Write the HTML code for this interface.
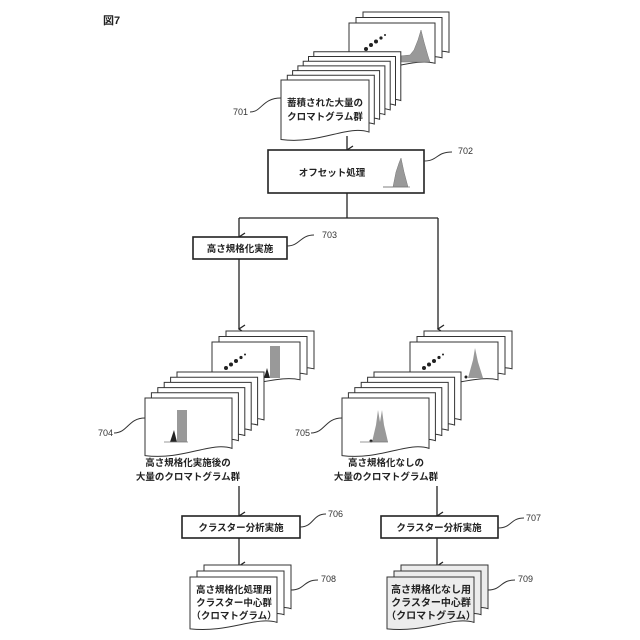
<!DOCTYPE html>
<html><head><meta charset="utf-8"><style>
html,body{margin:0;padding:0;background:#fff}
svg{display:block}
text{font-family:"Liberation Sans","Noto Sans CJK JP",sans-serif;fill:#222}
.j{font-size:9.5px;font-weight:bold;text-anchor:middle}
.n{font-size:9px;fill:#333}
</style></head><body>
<svg width="640" height="640" viewBox="0 0 640 640" xmlns="http://www.w3.org/2000/svg">
<defs>
<path id="cd" d="M0,0 H1 V0.84 C0.75,0.72 0.45,1.04 0,0.96 Z" fill="#fff" stroke="#333" stroke-width="1" vector-effect="non-scaling-stroke"/>
<path id="cg" d="M0,0 H1 V0.84 C0.75,0.72 0.45,1.04 0,0.96 Z" fill="#ececec" stroke="#333" stroke-width="1" vector-effect="non-scaling-stroke"/>
<marker id="ar" markerWidth="10" markerHeight="10" refX="5" refY="8" orient="auto" markerUnits="userSpaceOnUse"><path d="M1,2 L5,8 L9,2" fill="none" stroke="#222" stroke-width="1.3"/></marker>
</defs>

<text x="103" y="24" style="font-size:11px;font-weight:bold">図7</text>

<!-- 701 stack -->
<use href="#cd" transform="translate(363,12) scale(86,48)"/>
<use href="#cd" transform="translate(356,17.5) scale(86,48)"/>
<use href="#cd" transform="translate(349,23) scale(86,48)"/>
<g fill="#222"><circle cx="366" cy="49" r="2"/><circle cx="371" cy="45" r="2"/><circle cx="376" cy="41.5" r="2"/><circle cx="381" cy="38" r="1.6"/><circle cx="385" cy="35" r="1"/></g>
<path d="M400,62 L400,56 L410,55 L414,50 L418,40 L421,30 L424,42 L428,56 L430,62 Z" fill="#999" stroke="#777" stroke-width="0.5"/>
<use href="#cd" transform="translate(313.8,51.8) scale(87,58)"/>
<use href="#cd" transform="translate(308.5,56.5) scale(87,58)"/>
<use href="#cd" transform="translate(303.2,61.2) scale(87,58)"/>
<use href="#cd" transform="translate(297.9,65.9) scale(87,58)"/>
<use href="#cd" transform="translate(292.6,70.6) scale(87,58)"/>
<use href="#cd" transform="translate(287.3,75.3) scale(87,58)"/>
<use href="#cd" transform="translate(281,80) scale(88,62)"/>
<text class="j" x="325" y="106">蓄積された大量の</text>
<text class="j" x="325" y="120">クロマトグラム群</text>
<text class="n" x="233" y="115">701</text>
<path d="M250,112 C262,112 262,98 281,98" fill="none" stroke="#333"/>

<!-- arrow to 702 -->
<line x1="347" y1="136" x2="347" y2="150" stroke="#222" stroke-width="1.3" marker-end="url(#ar)"/>
<rect x="268" y="150" width="156" height="43" fill="#fff" stroke="#222" stroke-width="1.6"/>
<text class="j" x="332" y="176">オフセット処理</text>
<path d="M383,187 L393,187 L396,172 L399,163 L401,158 L404,172 L408,187 Z" fill="#999" stroke="#777" stroke-width="0.5"/>
<line x1="383" y1="187" x2="410" y2="187" stroke="#777" stroke-width="0.7"/>
<path d="M424,161 C438,161 436,152 452,152" fill="none" stroke="#333"/>
<text class="n" x="458" y="154">702</text>

<!-- branches -->
<g stroke="#222" stroke-width="1.3" fill="none">
<line x1="347" y1="193" x2="347" y2="218"/>
<line x1="239" y1="218" x2="438" y2="218"/>
<line x1="239" y1="218" x2="239" y2="237" marker-end="url(#ar)"/>
<line x1="438" y1="218" x2="438" y2="329" marker-end="url(#ar)"/>
<line x1="239" y1="259" x2="239" y2="329" marker-end="url(#ar)"/>
</g>
<rect x="193" y="237" width="94" height="22" fill="#fff" stroke="#222" stroke-width="1.6"/>
<text class="j" x="240" y="252">高さ規格化実施</text>
<path d="M287,246 C300,246 300,235 314,235" fill="none" stroke="#333"/>
<text class="n" x="322" y="238">703</text>

<!-- 704 stack -->
<use href="#cd" transform="translate(226,331) scale(88,45)"/>
<use href="#cd" transform="translate(219,336.5) scale(88,45)"/>
<use href="#cd" transform="translate(212,342) scale(88,45)"/>
<g fill="#222"><circle cx="226" cy="368" r="2"/><circle cx="231" cy="364.5" r="2"/><circle cx="236" cy="361" r="2"/><circle cx="241" cy="357.5" r="1.6"/><circle cx="245" cy="354.5" r="1"/></g>
<rect x="270" y="346" width="10" height="32" fill="#999"/>
<path d="M264,378 L267,368 L270,378 Z" fill="#222"/>
<use href="#cd" transform="translate(177,372) scale(87,57)"/>
<use href="#cd" transform="translate(170.6,377.2) scale(87,57)"/>
<use href="#cd" transform="translate(164.2,382.4) scale(87,57)"/>
<use href="#cd" transform="translate(157.8,387.6) scale(87,57)"/>
<use href="#cd" transform="translate(151.4,392.8) scale(87,57)"/>
<use href="#cd" transform="translate(145,398) scale(87,60)"/>
<rect x="177" y="410" width="10" height="32" fill="#999"/>
<path d="M170,442 L174,430 L177,442 Z" fill="#222"/>
<line x1="164" y1="442" x2="188" y2="442" stroke="#777" stroke-width="0.7"/>
<text class="j" x="188" y="466">高さ規格化実施後の</text>
<text class="j" x="188" y="480">大量のクロマトグラム群</text>
<text class="n" x="98" y="436">704</text>
<path d="M114,433 C128,433 128,418 145,418" fill="none" stroke="#333"/>

<!-- 705 stack -->
<use href="#cd" transform="translate(424,331) scale(88,45)"/>
<use href="#cd" transform="translate(417,336.5) scale(88,45)"/>
<use href="#cd" transform="translate(410,342) scale(88,45)"/>
<g fill="#222"><circle cx="424" cy="368" r="2"/><circle cx="429" cy="364.5" r="2"/><circle cx="434" cy="361" r="2"/><circle cx="439" cy="357.5" r="1.6"/><circle cx="443" cy="354.5" r="1"/></g>
<path d="M468,378 L473,360 L475,348 L478,362 L483,378 Z" fill="#999"/>
<circle cx="466" cy="377" r="1.5" fill="#222"/>
<use href="#cd" transform="translate(374,372) scale(87,57)"/>
<use href="#cd" transform="translate(367.6,377.2) scale(87,57)"/>
<use href="#cd" transform="translate(361.2,382.4) scale(87,57)"/>
<use href="#cd" transform="translate(354.8,387.6) scale(87,57)"/>
<use href="#cd" transform="translate(348.4,392.8) scale(87,57)"/>
<use href="#cd" transform="translate(342,398) scale(87,60)"/>
<path d="M372,442 L376,425 L378,410 L380,422 L382,410 L384,425 L388,442 Z" fill="#999"/>
<circle cx="371" cy="441" r="1.5" fill="#222"/>
<line x1="360" y1="442" x2="388" y2="442" stroke="#777" stroke-width="0.7"/>
<text class="j" x="386" y="466">高さ規格化なしの</text>
<text class="j" x="386" y="480">大量のクロマトグラム群</text>
<text class="n" x="295" y="436">705</text>
<path d="M311,433 C325,433 325,418 342,418" fill="none" stroke="#333"/>

<!-- arrows to cluster -->
<g stroke="#222" stroke-width="1.3" fill="none">
<line x1="239" y1="486" x2="239" y2="516" marker-end="url(#ar)"/>
<line x1="437" y1="486" x2="437" y2="516" marker-end="url(#ar)"/>
<line x1="239" y1="538" x2="239" y2="566" marker-end="url(#ar)"/>
<line x1="437" y1="538" x2="437" y2="566" marker-end="url(#ar)"/>
</g>
<rect x="182" y="516" width="118" height="22" fill="#fff" stroke="#222" stroke-width="1.6"/>
<text class="j" x="241" y="531">クラスター分析実施</text>
<rect x="381" y="516" width="117" height="22" fill="#fff" stroke="#222" stroke-width="1.6"/>
<text class="j" x="439" y="531">クラスター分析実施</text>
<path d="M300,527 C314,527 312,514 326,514" fill="none" stroke="#333"/>
<text class="n" x="328" y="517">706</text>
<path d="M498,528 C512,528 510,518 524,518" fill="none" stroke="#333"/>
<text class="n" x="526" y="521">707</text>

<!-- 708 -->
<use href="#cd" transform="translate(204,565) scale(87,52)"/>
<use href="#cd" transform="translate(197,571) scale(87,52)"/>
<use href="#cd" transform="translate(190,577) scale(87,54)"/>
<text class="j" x="234" y="593">高さ規格化処理用</text>
<text class="j" x="234" y="606">クラスター中心群</text>
<text class="j" x="234" y="619">（クロマトグラム）</text>
<path d="M291,590 C305,590 303,580 318,580" fill="none" stroke="#333"/>
<text class="n" x="321" y="582">708</text>

<!-- 709 -->
<use href="#cg" transform="translate(401,565) scale(87,52)"/>
<use href="#cg" transform="translate(394,571) scale(87,52)"/>
<use href="#cg" transform="translate(387,577) scale(87,54)"/>
<text class="j" x="431" y="593" style="font-size:10px">高さ規格化なし用</text>
<text class="j" x="431" y="606" style="font-size:10px">クラスター中心群</text>
<text class="j" x="431" y="619" style="font-size:10px">（クロマトグラム）</text>
<path d="M488,590 C502,590 500,580 515,580" fill="none" stroke="#333"/>
<text class="n" x="518" y="582">709</text>
</svg>
</body></html>
